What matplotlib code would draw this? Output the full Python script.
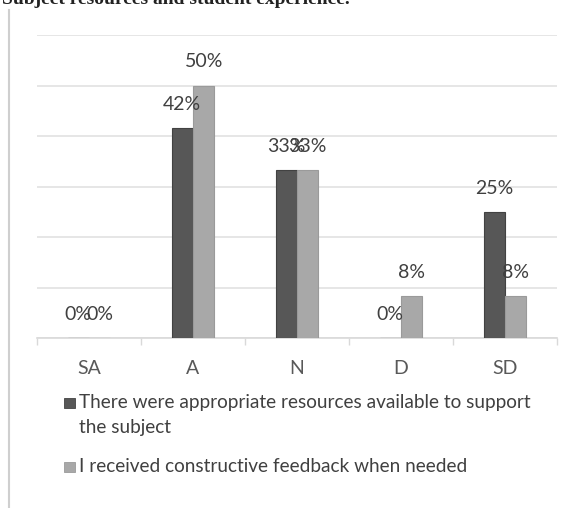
import matplotlib
matplotlib.use("Agg")
import matplotlib.pyplot as plt
from matplotlib.patches import Rectangle
from matplotlib.lines import Line2D
import numpy as np

categories = ["SA", "A", "N", "D", "SD"]
series_names = [
    "There were appropriate resources available to support\nthe subject",
    "I received constructive feedback when needed",
]
resources = [0, 41.67, 33.33, 0, 25]
feedback = [0, 50, 33.33, 8.33, 8.33]
y_ticks = [0, 10, 20, 30, 40, 50, 60]

W, H = 577, 508
plt.rcParams['font.family'] = ['Lato', 'DejaVu Sans']
fig = plt.figure(figsize=(W / 100, H / 100), dpi=100)
fig.patch.set_facecolor('white')

ax = fig.add_axes([37 / W, 1 - 338 / H, 520 / W, 303 / H])
x = np.arange(len(categories))
bw = 0.205
colors = ['#575757', '#a8a8a8']
edges = ['#424242', '#9a9a9a']
series = [resources, feedback]
for i, (vals, c, ec) in enumerate(zip(series, colors, edges)):
    off = (i - 0.5) * bw
    ax.bar(x + off, vals, width=bw, color=c, edgecolor=ec, linewidth=0.8, zorder=3)
    for xi, v in zip(x, vals):
        ax.annotate(f"{round(v)}%", (xi + off, v), xytext=(0, 13),
                    textcoords='offset points', ha='center', va='baseline',
                    fontsize=14, color='#404040', zorder=4)

ax.set_xlim(-0.5, len(categories) - 0.5)
ax.set_ylim(y_ticks[0], y_ticks[-1])
ax.set_yticks(y_ticks)
ax.yaxis.grid(True, color='#e2e2e2', linewidth=1.2, zorder=0)
ax.tick_params(axis='y', left=False, labelleft=False)
ax.set_xticks(x)
ax.set_xticklabels(categories, fontsize=14, color='#595959')
ax.tick_params(axis='x', which='major', length=0, pad=15.5)
ax.set_xticks(np.arange(-0.5, len(categories)), minor=True)
ax.tick_params(axis='x', which='minor', length=5, color='#d9d9d9', width=1)
for s in ['top', 'left', 'right']:
    ax.spines[s].set_visible(False)
ax.spines['bottom'].set_color('#d9d9d9')
ax.spines['bottom'].set_linewidth(1.2)
ax.set_axisbelow(True)

# legend (manual, marker aligned with first line)
leg_y = [403, 467]
for name, c, ec, ly in zip(series_names, colors, edges, leg_y):
    fig.patches.append(Rectangle((64 / W, 1 - (ly + 5) / H), 11 / W, 10 / H,
                                 transform=fig.transFigure, facecolor=c,
                                 edgecolor=ec, linewidth=0.6))
    fig.text(79 / W, 1 - (ly - 9) / H, name, fontsize=13.7, color='#404040',
             va='top', ha='left', linespacing=1.6,
             transform=fig.transFigure)

# partially cropped title and chart frame from the source page
fig.text(2 / W, 1 - 4 / H, "Subject resources and student experience.",
         fontfamily='Liberation Serif', fontweight='bold', fontsize=14,
         color='#222222', va='baseline', ha='left')
fig.lines.append(Line2D([9 / W, 9 / W], [1 - 10 / H, 0], transform=fig.transFigure,
                        color='#cfcfcf', linewidth=1.5))

fig.savefig("out.png", dpi=100, facecolor='white')
